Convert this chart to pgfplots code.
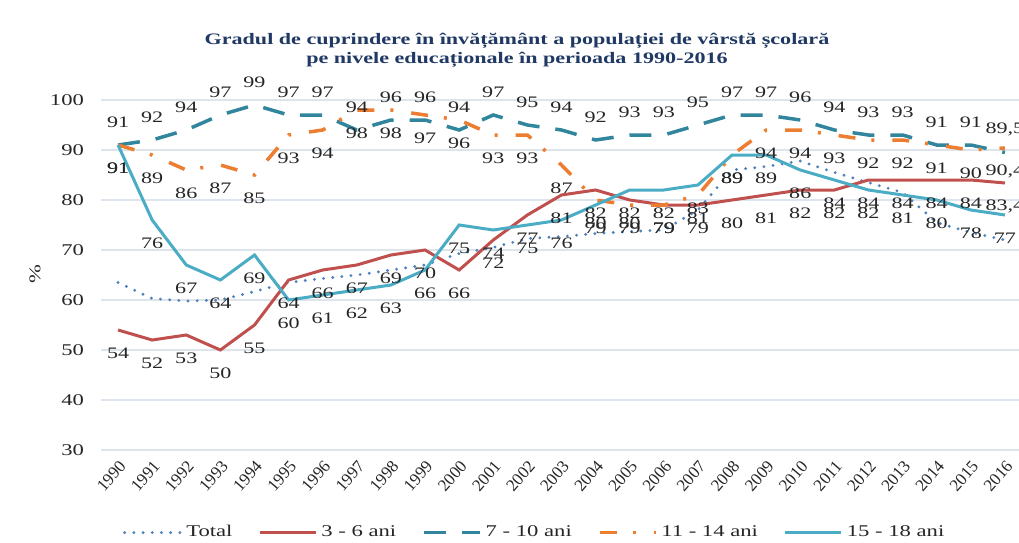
\documentclass[border=0pt]{standalone}
\usepackage{fontspec}
\setmainfont{Liberation Serif}[FakeStretch=1.38]
\newfontfamily\plainserif{Liberation Serif}
\usepackage{pgfplots}
\pgfplotsset{compat=1.18}
\definecolor{ctotal}{RGB}{79,129,189}
\definecolor{cred}{RGB}{192,80,77}
\definecolor{cteal}{RGB}{49,133,156}
\definecolor{corange}{RGB}{237,125,49}
\definecolor{ccyan}{RGB}{75,172,198}
\definecolor{gridc}{RGB}{222,228,236}
\definecolor{titlec}{RGB}{31,56,100}
\pgfplotstableread{
x y
1990 63.5
1991 60.3
1992 59.8
1993 60
1994 61.7
1995 63.5
1996 64.3
1997 65
1998 66
1999 67
2000 69.3
2001 70.5
2002 72.3
2003 72.7
2004 73.3
2005 73.7
2006 74
2007 78
2008 86
2009 86.7
2010 87.8
2011 85.5
2012 83.5
2013 81.5
2014 75.5
2015 73.5
2016 72
}\ttotal
\pgfplotstableread{
x y
1990 54
1991 52
1992 53
1993 50
1994 55
1995 64
1996 66
1997 67
1998 69
1999 70
2000 66
2001 72
2002 77
2003 81
2004 82
2005 80
2006 79
2007 79
2008 80
2009 81
2010 82
2011 82
2012 84
2013 84
2014 84
2015 84
2016 83.4
}\tred
\pgfplotstableread{
x y
1990 91
1991 92
1992 94
1993 97
1994 99
1995 97
1996 97
1997 94
1998 96
1999 96
2000 94
2001 97
2002 95
2003 94
2004 92
2005 93
2006 93
2007 95
2008 97
2009 97
2010 96
2011 94
2012 93
2013 93
2014 91
2015 91
2016 89.5
}\tteal
\pgfplotstableread{
x y
1990 91
1991 89
1992 86
1993 87
1994 85
1995 93
1996 94
1997 98
1998 98
1999 97
2000 96
2001 93
2002 93
2003 87
2004 80
2005 79
2006 79
2007 81
2008 89
2009 94
2010 94
2011 93
2012 92
2013 92
2014 91
2015 90
2016 90.4
}\torange
\pgfplotstableread{
x y
1990 91
1991 76
1992 67
1993 64
1994 69
1995 60
1996 61
1997 62
1998 63
1999 66
2000 75
2001 74
2002 75
2003 76
2004 79
2005 82
2006 82
2007 83
2008 89
2009 89
2010 86
2011 84
2012 82
2013 81
2014 80
2015 78
2016 77
}\tcyan
\begin{document}
\begin{tikzpicture}
\begin{axis}[
  at={(0pt,0pt)}, anchor=south west,
  scale only axis, width=460.5pt, height=175pt,
  xmin=1989.5, xmax=2016.5, ymin=30, ymax=100,
  xtick={1990,...,2016}, ytick={30,40,...,100},
  ymajorgrids, grid style={line width=0.75pt, color=gridc},
  axis line style={draw=none}, major tick length=0pt,
  clip=false,
  /pgf/number format/assume math mode=true,
  /pgf/number format/use comma,
  /pgf/number format/1000 sep={},
  xticklabel style={font=\plainserif\fontsize{8.5}{9}\selectfont, xshift=0pt, yshift=-4.5pt, rotate=49, anchor=north east, inner sep=0pt, text=black!85},
  yticklabel style={font=\fontsize{8.2}{9}\selectfont, xshift=-5pt, text=black!85},
  legend columns=5,
  legend style={at={(axis description cs:0.472,-0.236)}, anchor=center, draw=none, fill=none,
    font=\fontsize{8.2}{9}\selectfont, text=black!85,
    /tikz/every even column/.append style={column sep=11pt},
    /tikz/every odd column/.append style={column sep=0pt}},
  legend image code/.code={\draw[#1] (0pt,0pt) -- (28pt,0pt);},
  nodes near coords,
  every node near coord/.style={font=\fontsize{8}{9}\selectfont, text=black!85, anchor=center, yshift=-11.5pt, inner sep=0pt},
]
\addplot[ctotal, line width=1.6pt, line cap=round, dash pattern=on 0pt off 4.6pt, nodes near coords={}] table[x=x,y=y] {\ttotal};
\addlegendentry{Total}
\addplot[cred, line width=1.5pt] table[x=x,y=y] {\tred};
\addlegendentry{3 - 6 ani}
\addplot[cteal, line width=1.75pt, dash pattern=on 11pt off 8pt, every node near coord/.append style={yshift=23pt}] table[x=x,y=y] {\tteal};
\addlegendentry{7 - 10 ani}
\addplot[corange, line width=1.75pt, dash pattern=on 8.5pt off 8pt on 1.5pt off 9pt] table[x=x,y=y] {\torange};
\addlegendentry{11 - 14 ani}
\addplot[ccyan, line width=1.5pt] table[x=x,y=y] {\tcyan};
\addlegendentry{15 - 18 ani}
\end{axis}
\node[font=\bfseries\fontsize{8}{9.5}\selectfont, text=titlec, align=center] at (208pt,199.8pt)
  {Gradul de cuprindere în învățământ a populației de vârstă școlară\\pe nivele educaționale în perioada 1990-2016};
\node[rotate=90, font=\fontsize{8.2}{9}\selectfont, text=black!85] at (-33pt,88pt) {\%};
\pgfresetboundingbox
\useasboundingbox (-50.5pt,-46pt) rectangle (459pt,225pt);
\end{tikzpicture}
\end{document}
